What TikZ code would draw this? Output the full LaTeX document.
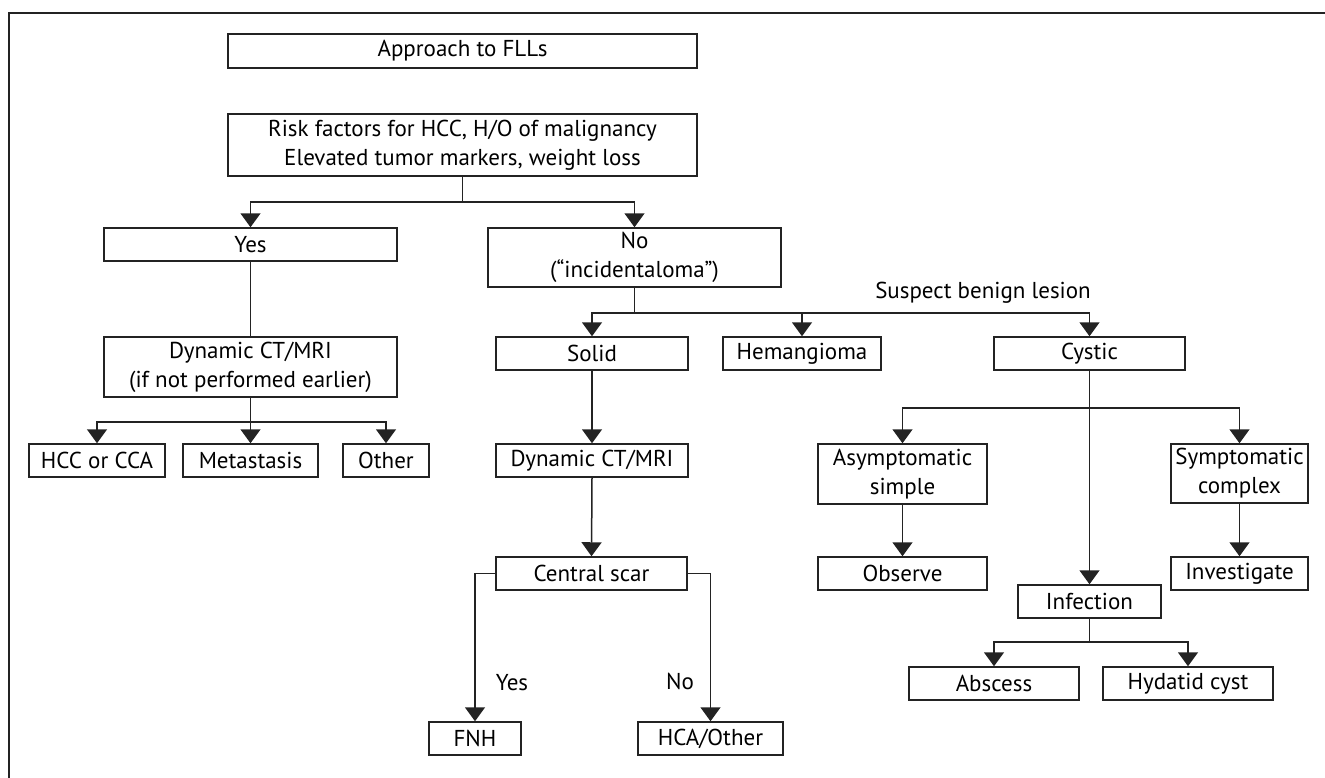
\documentclass[tikz,border=0pt]{standalone}
\usepackage{fontspec}
\setmainfont{PT Sans}
\usetikzlibrary{arrows.meta,calc}
\definecolor{linec}{RGB}{35,35,35}
\tikzset{
  bx/.style={draw=linec, line width=1.5pt, inner sep=0pt, align=center,
    font=\fontsize{23pt}{29pt}\selectfont, text=black},
  conn/.style={draw=linec, line width=1.5pt},
  arr/.style={conn, -{Triangle[width=20pt,length=14pt]}},
  lbl/.style={inner sep=0pt, font=\fontsize{23pt}{29pt}\selectfont, text=black},
  frame/.style={draw=linec, line width=2.5pt}
}
\begin{document}
\begin{tikzpicture}[x=1pt,y=-1pt]
\useasboundingbox (0,0) rectangle (1325,777);
\draw[frame] (9,790) -- (9,13) -- (1340,13);

\node[bx, minimum width=469pt, minimum height=34pt] (appr) at (462.5,51) {Approach to FLLs};
\node[bx, minimum width=469pt, minimum height=62pt] (risk) at (462.5,145) {Risk factors for HCC, H/O of malignancy\\Elevated tumor markers, weight loss};
\node[bx, minimum width=293pt, minimum height=33pt] (yes) at (250.5,244.5) {Yes};
\node[bx, minimum width=293pt, minimum height=59pt] (no) at (634.5,257.5) {No\\(“incidentaloma”)};
\node[bx, minimum width=293pt, minimum height=60pt] (dyn1) at (250.5,367) {Dynamic CT/MRI\\(if not performed earlier)};
\node[bx, minimum width=136pt, minimum height=33pt] (hcc) at (97,460.5) {HCC or CCA};
\node[bx, minimum width=135pt, minimum height=33pt] (meta) at (250.5,460.5) {Metastasis};
\node[bx, minimum width=86pt, minimum height=33pt] (other) at (386,460.5) {Other};
\node[bx, minimum width=192pt, minimum height=33pt] (solid) at (592,353.5) {Solid};
\node[bx, minimum width=158pt, minimum height=33pt] (hem) at (802,353.5) {Hemangioma};
\node[bx, minimum width=191pt, minimum height=33pt] (cystic) at (1089.5,353.5) {Cystic};
\node[bx, minimum width=192pt, minimum height=33pt] (dyn2) at (592,460.5) {Dynamic CT/MRI};
\node[bx, minimum width=191pt, minimum height=33pt] (scar) at (591.5,573.5) {Central scar};
\node[bx, minimum width=92pt, minimum height=33pt] (fnh) at (475,738.5) {FNH};
\node[bx, minimum width=145pt, minimum height=33pt] (hca) at (710.5,738.5) {HCA/Other};
\node[bx, minimum width=169pt, minimum height=60pt] (asym) at (902.5,474) {Asymptomatic\\simple};
\node[bx, minimum width=137pt, minimum height=59pt] (symp) at (1239.5,473.5) {Symptomatic\\complex};
\node[bx, minimum width=169pt, minimum height=33pt] (obs) at (902.5,573.5) {Observe};
\node[bx, minimum width=137pt, minimum height=33pt] (inv) at (1239.5,573.5) {Investigate};
\node[bx, minimum width=143pt, minimum height=33pt] (inf) at (1089.5,601.5) {Infection};
\node[bx, minimum width=170pt, minimum height=33pt] (abs) at (994,683.5) {Abscess};
\node[bx, minimum width=170pt, minimum height=33pt] (hyd) at (1188,683.5) {Hydatid cyst};

\node[lbl, anchor=east] (sbl) at (1091,293) {Suspect benign lesion};
\node[lbl] (ly) at (512,683) {Yes};
\node[lbl] (ln) at (680,681) {No};

% connectors
\draw[arr] (risk.south) -- ++(0,25) -| (yes.north);
\draw[arr] (risk.south) -- ++(0,25) -| (no.north);
\draw[conn] (yes.south) -- (dyn1.north);
\draw[arr] (dyn1.south) -- ++(0,24) -| (hcc.north);
\draw[arr] (dyn1.south) -- (meta.north);
\draw[arr] (dyn1.south) -- ++(0,24) -| (other.north);
\draw[arr] (no.south) -- ++(0,25) -| (solid.north);
\draw[arr] (no.south) -- ++(0,25) -| (hem.north);
\draw[arr] (no.south) -- ++(0,25) -| (cystic.north);
\draw[arr] (solid.south) -- (dyn2.north);
\draw[arr] (dyn2.south) -- (scar.north);
\draw[arr] (scar.west) -| (fnh.north);
\draw[arr] (scar.east) -| (hca.north);
\draw[arr] (cystic.south) -- (inf.north);
\draw[arr] ($(cystic.south)+(0,37)$) -| (asym.north);
\draw[arr] ($(cystic.south)+(0,37)$) -| (symp.north);
\draw[arr] (asym.south) -- (obs.north);
\draw[arr] (symp.south) -- (inv.north);
\draw[arr] (inf.south) -- ++(0,23) -| (abs.north);
\draw[arr] (inf.south) -- ++(0,23) -| (hyd.north);
\end{tikzpicture}
\end{document}
